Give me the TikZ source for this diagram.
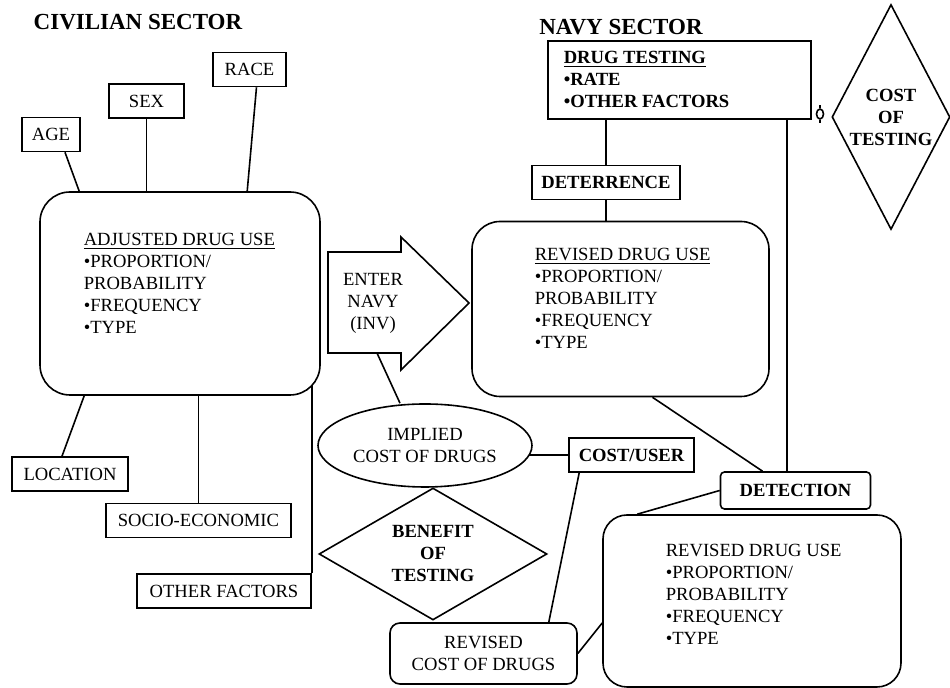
\documentclass[tikz,border=0pt]{standalone}
\usepackage{fontspec}
\setmainfont{Liberation Serif}
\usepackage{tikz}
\usetikzlibrary{backgrounds,calc,shapes,positioning}

\begin{document}
\begin{tikzpicture}[x=0.5pt,y=-0.5pt,line width=0.8pt,font=\fontsize{9.3}{11}\selectfont,
factor/.style={draw, fill=white, minimum height=17pt, inner sep=2pt},
usebox/.style={draw, fill=white, rounded corners=#1},
usebox/.default=14pt,
listtext/.style={anchor=west, align=left, inner sep=0pt},
bold/.style={font=\fontsize{9.3}{11}\selectfont\bfseries},
header/.style={font=\fontsize{11.5}{13}\selectfont\bfseries}]

    \useasboundingbox (0,0) rectangle (950,688);

    \node[header] (civ) at (138,22) {CIVILIAN SECTOR};
    \node[header] (navy) at (621,27) {NAVY SECTOR};

    % civilian side
    \node[factor, minimum width=29pt] (age) at (51,134.5) {AGE};
    \node[factor, minimum width=37.5pt] (sex) at (146.5,101) {SEX};
    \node[factor, minimum width=36.5pt] (race) at (249.5,69.5) {RACE};
    \node[factor, minimum width=58pt] (location) at (70,474) {LOCATION};
    \node[factor, minimum width=92.5pt] (socio) at (198.5,520.5) {SOCIO-ECONOMIC};
    \node[factor, minimum width=87pt] (other) at (224,591) {OTHER FACTORS};

    \node[usebox=15pt, minimum width=140pt, minimum height=101.5pt] (adj) at (180,293.5) {};
    \node[listtext] (adjtxt) at (83,283) {\underline{ADJUSTED DRUG USE}\\\textbullet PROPORTION/\\PROBABILITY\\\textbullet FREQUENCY\\\textbullet TYPE};

    \draw[fill=white] (328,252) -- (401,252) -- (401,237) -- (469,303) -- (401,370) -- (401,353) -- (328,353) -- cycle;
    \node[align=center] (enter) at (373,303) {ENTER\\NAVY\\(INV)};
    \coordinate (enterfoot) at (377,353);

    % navy side
    \node[draw, fill=white, minimum width=131.5pt, minimum height=39pt] (dtest) at (679.5,80) {};
    \node[listtext, bold] (dtesttxt) at (563,79) {\underline{DRUG TESTING}\\\textbullet RATE\\\textbullet OTHER FACTORS};
    \node[factor, bold, minimum width=74pt] (deter) at (606,182.5) {DETERRENCE};
    \node[usebox, minimum width=148.5pt, minimum height=87.5pt] (rev) at (620.5,309) {};
    \node[listtext] (revtxt) at (534,298) {\underline{REVISED DRUG USE}\\\textbullet PROPORTION/\\PROBABILITY\\\textbullet FREQUENCY\\\textbullet TYPE};

    \node[draw, diamond, bold, fill=white, aspect=0.52, inner sep=0pt, minimum width=59pt, minimum height=112.5pt, align=center] (ctest) at (891,117) {COST\\OF\\TESTING};
    \node[draw, ellipse, inner sep=0pt, minimum width=3.5pt, minimum height=5pt] (link) at (820,114) {};
    \draw (link.north) -- ++(0,-3);
    \draw (link.south) -- ++(0,3);

    \node[draw, ellipse, fill=white, inner sep=0pt, minimum width=107pt, minimum height=41.5pt, align=center] (implied) at (425,445.5) {IMPLIED\\COST OF DRUGS};
    \node[factor, bold, minimum width=62.5pt] (cuser) at (631.5,455) {COST/USER};
    \node[draw, diamond, bold, fill=white, aspect=1.73, inner sep=0pt, minimum width=114pt, minimum height=66pt, align=center] (benefit) at (433,554) {BENEFIT\\OF\\TESTING};
    \node[factor, bold, rounded corners=2pt, minimum width=75pt, minimum height=18.5pt] (detect) at (795.5,490.5) {DETECTION};
    \node[usebox=5pt, minimum width=93.5pt, minimum height=30.5pt, align=center] (rcost) at (483.5,653.5) {REVISED\\COST OF DRUGS};
    \node[usebox=12pt, minimum width=149pt, minimum height=86pt] (fin) at (752,601) {};
    \node[listtext] (fintxt) at (665,594) {REVISED DRUG USE\\\textbullet PROPORTION/\\PROBABILITY\\\textbullet FREQUENCY\\\textbullet TYPE};

    \begin{scope}[on background layer={line width=0.8pt}]
    \draw ($(age.south)+(14,0)$) -- ($(adj.north west)+(40,0)$);
    \draw (sex.south) -- (sex.south |- adj.north);
    \draw ($(race.south)+(7,0)$) -- ($(adj.north west)+(208,0)$);
    \draw ($(adj.south west)+(45,0)$) -- ($(location.north)+(-8,0)$);
    \draw (socio.north) -- (socio.north |- adj.south);
    \draw (other.north east) -- (other.north east |- adj.center);
    \draw (enterfoot) -- ($(implied.north)+(-25,0)$);
    \draw (dtest.south -| deter.north) -- (deter.north);
    \draw (deter.south) -- (deter.south |- rev.north);
    \draw ($(dtest.south east)+(-25,0)$) coordinate (dtestfoot) -- (dtestfoot |- detect.north);
    \draw ($(rev.south)+(32,0)$) -- ($(detect.north)+(-33,0)$);
    \draw (cuser.west) -- (cuser.west -| implied.center);
    \draw ($(cuser.south west)+(11,0)$) -- ($(rcost.north east)+(-29,0)$);
    \draw (rcost.east) -- ($(fin.west)+(0,22)$);
    \draw (detect.west) -- ($(fin.north west)+(35,0)$);
    \end{scope}
    %
\end{tikzpicture}
\end{document}
